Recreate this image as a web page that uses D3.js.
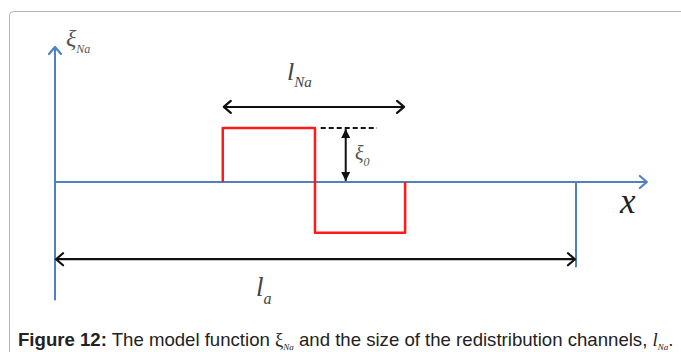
<!DOCTYPE html>
<html>
<head>
<meta charset="utf-8">
<script src="https://cdn.jsdelivr.net/npm/d3@7"></script>
<style>
  html, body { margin: 0; padding: 0; background: #fff; }
  svg { display: block; }
</style>
</head>
<body>
<svg id="chart" width="681" height="352"></svg>
<script>
// Model step function xi_Na(x): +xi0 over the first half of l_Na, -xi0 over the second half
const stepX = [3.22, 3.22, 4.99, 4.99, 6.72, 6.72];
const stepY = [0, 1, 1, -0.94, -0.94, 0];
// Domain extents
const la = 10;            // size of the region l_a
const xAxisEnd = 11.36;   // where the x axis arrow ends
const yAxisTop = 2.5;
const yAxisBottom = -2.19;
// Annotation positions (in data units)
const lNaSpan = [3.24, 6.7];
const lNaLevel = 1.39;
const xi0At = 5.58;
const dashSpan = [5.1, 6.18];
const laLevel = -1.43;

const svg = d3.select("#chart");
const x = d3.scaleLinear().domain([0, la]).range([55, 576]);
const y = d3.scaleLinear().domain([0, 1]).range([182, 128]);

const blue = "#4f81bd", red = "#ff1a1a", black = "#111";
const serif = "'Liberation Serif', 'Times New Roman', serif";

// Outer frame
svg.append("rect")
  .attr("x", 9.5).attr("y", 11.5).attr("width", 700).attr("height", 400)
  .attr("rx", 4).attr("fill", "none").attr("stroke", "#b4b4b4").attr("stroke-width", 1);

const defs = svg.append("defs");
function chevron(id, color, w) {
  defs.append("marker").attr("id", id)
    .attr("viewBox", "-10 -10 20 20").attr("refX", 0).attr("refY", 0)
    .attr("markerWidth", 20).attr("markerHeight", 20)
    .attr("markerUnits", "userSpaceOnUse").attr("orient", "auto-start-reverse")
    .append("path").attr("d", "M-7,-6 L0,0 L-7,6")
    .attr("fill", "none").attr("stroke", color).attr("stroke-width", w)
    .attr("stroke-linecap", "round").attr("stroke-linejoin", "round");
}
chevron("chevBlue", blue, 2.2);
chevron("chevBlack", black, 2.2);
defs.append("marker").attr("id", "tri")
  .attr("viewBox", "-10 -10 20 20").attr("refX", 0).attr("refY", 0)
  .attr("markerWidth", 20).attr("markerHeight", 20)
  .attr("markerUnits", "userSpaceOnUse").attr("orient", "auto-start-reverse")
  .append("path").attr("d", "M-9,-4.5 L0,0 L-9,4.5 Z").attr("fill", black);

const line = d3.line().x(d => x(d[0])).y(d => y(d[1]));

// Axes
svg.append("path").attr("d", line([[0, yAxisBottom], [0, yAxisTop]]))
  .attr("stroke", blue).attr("stroke-width", 2).attr("fill", "none")
  .attr("marker-end", "url(#chevBlue)");
svg.append("path").attr("d", line([[0, 0], [xAxisEnd, 0]]))
  .attr("stroke", blue).attr("stroke-width", 2).attr("fill", "none")
  .attr("marker-end", "url(#chevBlue)");
svg.append("path").attr("d", line([[la, 0], [la, laLevel - 0.15]]))
  .attr("stroke", blue).attr("stroke-width", 2).attr("fill", "none");

// Step function
svg.append("path").datum(stepX.map((v, i) => [v, stepY[i]]))
  .attr("d", line).attr("stroke", red).attr("stroke-width", 2.5).attr("fill", "none")
  .attr("stroke-linejoin", "round");

// l_Na double arrow
svg.append("path").attr("d", line([[lNaSpan[0], lNaLevel], [lNaSpan[1], lNaLevel]]))
  .attr("stroke", black).attr("stroke-width", 2).attr("fill", "none")
  .attr("marker-start", "url(#chevBlack)").attr("marker-end", "url(#chevBlack)");

// Dashed reference level for xi0
svg.append("path").attr("d", line([[dashSpan[0], 1], [dashSpan[1], 1]]))
  .attr("stroke", black).attr("stroke-width", 2).attr("stroke-dasharray", "5,3").attr("fill", "none");

// xi0 double arrow
svg.append("path").attr("d", line([[xi0At, 0.02], [xi0At, 0.98]]))
  .attr("stroke", black).attr("stroke-width", 2).attr("fill", "none")
  .attr("marker-start", "url(#tri)").attr("marker-end", "url(#tri)");

// l_a double arrow
svg.append("path").attr("d", line([[0.02, laLevel], [la - 0.02, laLevel]]))
  .attr("stroke", black).attr("stroke-width", 2.2).attr("fill", "none")
  .attr("marker-start", "url(#chevBlack)").attr("marker-end", "url(#chevBlack)");

// Labels
function subLabel(px, py, main, sub, size, subSize, color) {
  const t = svg.append("text").attr("x", px).attr("y", py)
    .attr("font-family", serif).attr("font-style", "italic").attr("fill", color)
    .attr("font-size", size);
  t.append("tspan").text(main);
  t.append("tspan").attr("dy", size * 0.28).attr("font-size", subSize).text(sub);
  return t;
}
subLabel(66, 46, "ξ", "Na", 24, 12, "#555");
subLabel(287, 80, "l", "Na", 26, 15, "#444");
subLabel(355, 160, "ξ", "0", 20, 12, "#555");
subLabel(256, 296, "l", "a", 27, 16, "#444");
svg.append("text").attr("x", 620).attr("y", 213)
  .attr("font-family", serif).attr("font-style", "italic").attr("font-size", 35)
  .attr("fill", "#222").text("x");

// Caption
const cap = svg.append("text").attr("x", 18).attr("y", 346)
  .attr("font-family", "'Liberation Sans', Arial, sans-serif").attr("font-size", 18.6).attr("fill", "#222");
cap.append("tspan").attr("font-weight", "bold").text("Figure 12:");
cap.append("tspan").text(" The model function ");
cap.append("tspan").attr("font-family", serif).text("ξ");
cap.append("tspan").attr("font-family", serif).attr("font-style", "italic").attr("font-size", 9).attr("dy", 4).text("Na");
cap.append("tspan").attr("dy", -4).text(" and the size of the redistribution channels, ");
cap.append("tspan").attr("font-family", serif).attr("font-style", "italic").text("l");
cap.append("tspan").attr("font-family", serif).attr("font-style", "italic").attr("font-size", 9).attr("dy", 4).text("Na");
cap.append("tspan").attr("dy", -4).text(".");
</script>
</body>
</html>
